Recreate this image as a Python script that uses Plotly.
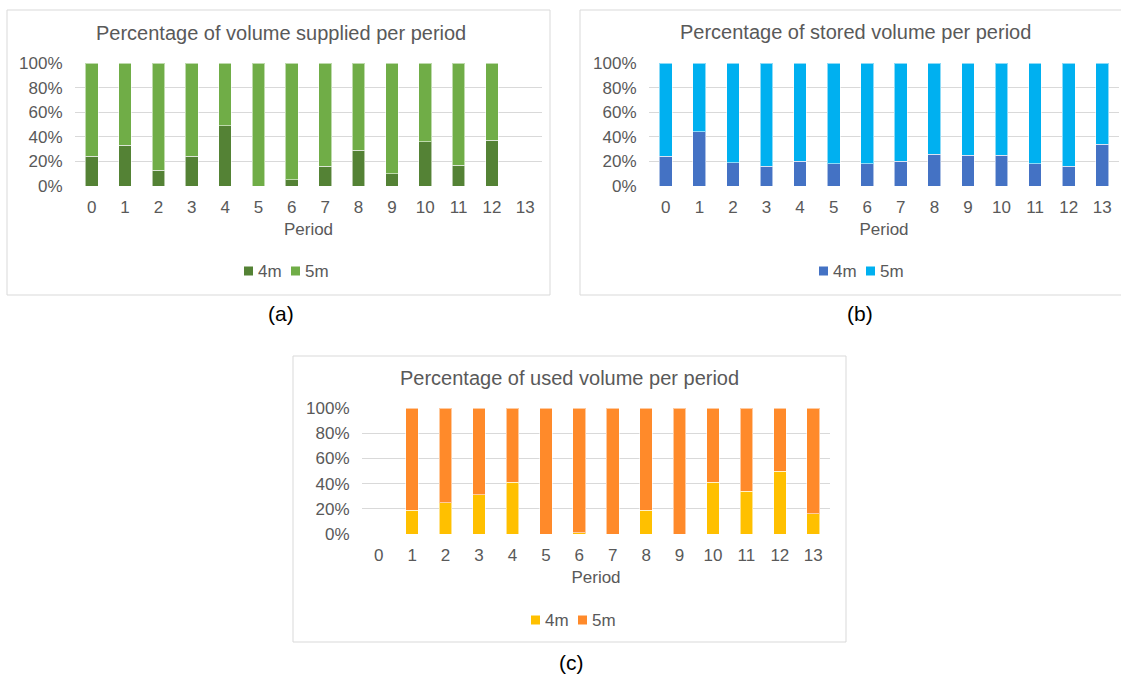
import plotly.graph_objects as go

periods = list(range(14))
tick_labels = [str(p) for p in periods]
pct_vals = [0, 20, 40, 60, 80, 100]
pct_labels = ["0%", "20%", "40%", "60%", "80%", "100%"]

# (a) Percentage of volume supplied per period
supplied_4m = [24, 33, 13, 24, 49, 0, 5, 16, 29, 10, 36, 17, 37, 0]
supplied_5m = [76, 67, 87, 76, 51, 100, 95, 84, 71, 90, 64, 83, 63, 0]

# (b) Percentage of stored volume per period
stored_4m = [24, 44, 19, 16, 20, 18, 18, 20, 26, 25, 25, 18, 16, 34]
stored_5m = [76, 56, 81, 84, 80, 82, 82, 80, 74, 75, 75, 82, 84, 66]

# (c) Percentage of used volume per period
used_4m = [0, 19, 25, 31, 41, 0, 1, 0, 19, 0, 41, 34, 50, 16]
used_5m = [0, 81, 75, 69, 59, 100, 99, 100, 81, 100, 59, 66, 50, 84]

titles = ["Percentage of volume supplied per period",
          "Percentage of stored volume per period",
          "Percentage of used volume per period"]
panel_labels = ["(a)", "(b)", "(c)"]
series_names = ["4m", "5m"]

W, H = 1121, 675
FONT = "Liberation Sans, Arial, sans-serif"
GRAY = "#595959"
GRID = "#D9D9D9"

def px(x):
    return x / W

def py(y):
    return 1 - y / H

panels = [
    dict(data=(supplied_4m, supplied_5m), colors=("#548235", "#70AD47"),
         plot=(75, 542, 63, 186), box=(7, 550, 10, 295), title_x=281, title_y=33,
         legend=(286, 271), label=(281, 313)),
    dict(data=(stored_4m, stored_5m), colors=("#4472C4", "#00B0F0"),
         plot=(649, 1119, 63, 186), box=(580, 1125, 10, 295), title_x=855, title_y=32,
         legend=(861, 271), label=(860, 313)),
    dict(data=(used_4m, used_5m), colors=("#FFC000", "#FF8A2A"),
         plot=(362, 830, 408, 534), box=(293, 846, 356, 642), title_x=569, title_y=378,
         legend=(573, 620), label=(571, 662)),
]

# legend item layout relative to legend centre: (square left offset, text left offset)
legend_items = [(-42, -30), (5, 17)]
SQ = 9

fig = go.Figure()
shapes = []
annotations = []
layout_axes = {}

for i, p in enumerate(panels):
    n = "" if i == 0 else str(i + 1)
    xa, ya = "x" + n, "y" + n
    for k in range(2):
        fig.add_trace(go.Bar(
            x=periods, y=p["data"][k], name=series_names[k],
            marker=dict(color=p["colors"][k],
                        line=dict(color="rgba(255,255,255,0.55)", width=1)),
            xaxis=xa, yaxis=ya, showlegend=False,
        ))
    x0, x1, y0, y1 = p["plot"]
    layout_axes["xaxis" + n] = dict(
        domain=[px(x0), px(x1)], anchor=ya, range=[-0.5, 13.5],
        tickmode="array", tickvals=periods, ticktext=tick_labels,
        showgrid=False, zeroline=False, showline=False, automargin=False,
        ticks="outside", ticklen=6, tickcolor="rgba(0,0,0,0)",
        tickfont=dict(family=FONT, size=17, color=GRAY),
        title=dict(text="Period", font=dict(family=FONT, size=17, color=GRAY),
                   standoff=6),
    )
    layout_axes["yaxis" + n] = dict(
        domain=[py(y1), py(y0)], anchor=xa, range=[0, 100],
        tickmode="array", tickvals=pct_vals, ticktext=pct_labels,
        showgrid=True, gridcolor=GRID, gridwidth=1, automargin=False,
        zeroline=False, showline=False,
        ticks="outside", ticklen=8, tickcolor="rgba(0,0,0,0)",
        tickfont=dict(family=FONT, size=17, color=GRAY),
    )
    # custom compact legend
    lx, lyy = p["legend"]
    for k in range(2):
        sq_off, tx_off = legend_items[k]
        shapes.append(dict(type="rect", xref="paper", yref="paper",
                           x0=px(lx + sq_off), x1=px(lx + sq_off + SQ),
                           y0=py(lyy + SQ / 2), y1=py(lyy - SQ / 2),
                           line=dict(width=0), fillcolor=p["colors"][k]))
        annotations.append(dict(text=series_names[k], xref="paper", yref="paper",
                                x=px(lx + tx_off), y=py(lyy), xanchor="left",
                                yanchor="middle", showarrow=False,
                                font=dict(family=FONT, size=17, color=GRAY)))
    bx0, bx1, by0, by1 = p["box"]
    shapes.append(dict(type="rect", xref="paper", yref="paper",
                       x0=px(bx0), x1=px(bx1), y0=py(by1), y1=py(by0),
                       line=dict(color=GRID, width=1), fillcolor="rgba(0,0,0,0)",
                       layer="below"))
    annotations.append(dict(text=titles[i], xref="paper", yref="paper",
                            x=px(p["title_x"]), y=py(p["title_y"]),
                            xanchor="center", yanchor="middle", showarrow=False,
                            font=dict(family=FONT, size=20, color=GRAY)))
    lbx, lby = p["label"]
    annotations.append(dict(text=panel_labels[i], xref="paper", yref="paper",
                            x=px(lbx), y=py(lby), xanchor="center", yanchor="middle",
                            showarrow=False,
                            font=dict(family=FONT, size=21, color="#000000")))

fig.update_layout(
    width=W, height=H, margin=dict(l=0, r=0, t=0, b=0),
    paper_bgcolor="white", plot_bgcolor="white",
    barmode="stack", bargap=0.62, showlegend=False,
    shapes=shapes, annotations=annotations,
    **layout_axes,
)

fig.write_html("out.html")
